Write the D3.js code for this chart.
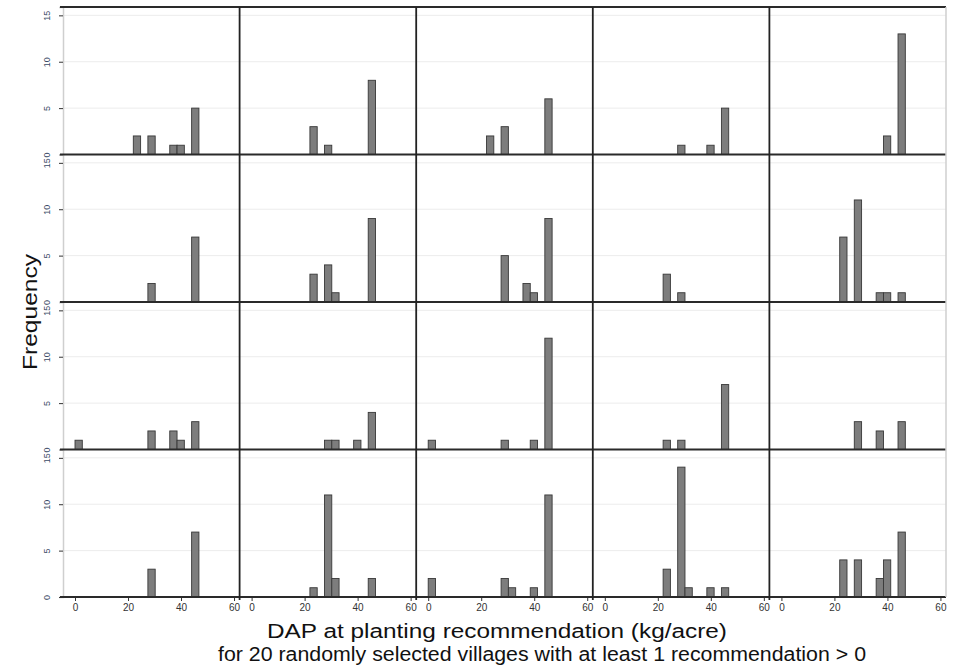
<!DOCTYPE html>
<html>
<head>
<meta charset="utf-8">
<script src="https://cdn.jsdelivr.net/npm/d3@7"></script>
<style>
  body { margin: 0; background: #fff; }
  svg { display: block; }
</style>
</head>
<body>
<svg id="chart" width="953" height="668"></svg>
<script>
// ---- data ----
const binEdges = [0, 22, 27.5, 30.25, 35.75, 38.5, 44]; // left edge of each histogram bin (kg/acre)
const binWidth = 2.75;
const yTicks = [0, 5, 10, 15];
const xTicks = [0, 20, 40, 60];
// counts per bin for each village panel (row by row)
const village01 = [0, 2, 2, 0, 1, 1, 5];
const village02 = [0, 3, 1, 0, 0, 0, 8];
const village03 = [0, 2, 3, 0, 0, 0, 6];
const village04 = [0, 0, 1, 0, 0, 1, 5];
const village05 = [0, 0, 0, 0, 0, 2, 13];
const village06 = [0, 0, 2, 0, 0, 0, 7];
const village07 = [0, 3, 4, 1, 0, 0, 9];
const village08 = [0, 0, 5, 0, 2, 1, 9];
const village09 = [0, 3, 1, 0, 0, 0, 0];
const village10 = [0, 7, 11, 0, 1, 1, 1];
const village11 = [1, 0, 2, 0, 2, 1, 3];
const village12 = [0, 0, 1, 1, 0, 1, 4];
const village13 = [1, 0, 1, 0, 0, 1, 12];
const village14 = [0, 1, 1, 0, 0, 0, 7];
const village15 = [0, 0, 3, 0, 2, 0, 3];
const village16 = [0, 0, 3, 0, 0, 0, 7];
const village17 = [0, 1, 11, 2, 0, 0, 2];
const village18 = [2, 0, 2, 1, 0, 1, 11];
const village19 = [0, 3, 14, 1, 0, 1, 1];
const village20 = [0, 4, 4, 0, 2, 4, 7];
const villages = [village01, village02, village03, village04, village05,
                  village06, village07, village08, village09, village10,
                  village11, village12, village13, village14, village15,
                  village16, village17, village18, village19, village20];
const xTitle = "DAP at planting recommendation (kg/acre)";
const xNote = "for 20 randomly selected villages with at least 1 recommendation > 0";
const yTitle = "Frequency";

// ---- layout ----
const svg = d3.select("#chart");
const plotL = 63, plotR = 946, plotT = 7, plotB = 597;
const nCols = 5, nRows = 4;
const colW = (plotR - plotL) / nCols;
const rowH = (plotB - plotT) / nRows;
const xDomain = [-4.53, 62.1];
const yDomain = [0, 15.9];

const gridG = svg.append("g");
const barG = svg.append("g");
const frameG = svg.append("g");

villages.forEach((counts, i) => {
  const r = Math.floor(i / nCols), c = i % nCols;
  const left = plotL + c * colW, top = plotT + r * rowH;
  const x = d3.scaleLinear().domain(xDomain).range([left, left + colW]);
  const y = d3.scaleLinear().domain(yDomain).range([top + rowH, top]);

  // light gridlines
  gridG.selectAll(null).data(yTicks.filter(t => t > 0)).join("line")
    .attr("x1", left).attr("x2", left + colW)
    .attr("y1", d => y(d)).attr("y2", d => y(d))
    .attr("stroke", "#ececec").attr("stroke-width", 1);

  // bars
  const data = binEdges.map((e, k) => ({ x0: e, n: counts[k] })).filter(d => d.n > 0);
  barG.selectAll(null).data(data).join("rect")
    .attr("x", d => x(d.x0))
    .attr("width", d => x(d.x0 + binWidth) - x(d.x0))
    .attr("y", d => y(d.n))
    .attr("height", d => y(0) - y(d.n))
    .attr("fill", "#7d7d7d")
    .attr("stroke", "#383838")
    .attr("stroke-width", 0.9);

  // y axis in first column
  if (c === 0) {
    const ay = frameG.append("g")
      .attr("transform", `translate(${left},0)`)
      .call(d3.axisLeft(y).tickValues(yTicks).tickSize(4).tickPadding(0));
    ay.select(".domain").attr("stroke", "#cfcfcf").attr("stroke-width", 1.5);
    ay.selectAll(".tick line").attr("stroke", "#333");
    ay.selectAll(".tick text")
      .attr("x", 0).attr("y", 0).attr("dy", 0)
      .attr("text-anchor", "middle")
      .attr("dominant-baseline", "middle")
      .attr("transform", "translate(-15,0) rotate(-90)")
      .attr("font-family", "Liberation Sans, Arial, sans-serif")
      .attr("font-size", 9).attr("fill", "#3a4a66");
  }

  // x axis in bottom row
  if (r === nRows - 1) {
    const ax = frameG.append("g")
      .attr("transform", `translate(0,${top + rowH})`)
      .call(d3.axisBottom(x).tickValues(xTicks).tickSize(4).tickPadding(3));
    ax.select(".domain").remove();
    ax.selectAll(".tick line").attr("stroke", "#333");
    ax.selectAll(".tick text")
      .attr("font-family", "Liberation Sans, Arial, sans-serif")
      .attr("font-size", 10).attr("fill", "#333");
  }
});

// frame lines: row baselines + top border
const rowLines = d3.range(nRows + 1).map(k => plotT + k * rowH);
frameG.selectAll(null).data(rowLines).join("line")
  .attr("x1", plotL - 3).attr("x2", plotR)
  .attr("y1", d => d).attr("y2", d => d)
  .attr("stroke", "#2a2a2a").attr("stroke-width", 1.8);

// column separators
const colLines = d3.range(1, nCols).map(k => plotL + k * colW);
frameG.selectAll(null).data(colLines).join("line")
  .attr("x1", d => d).attr("x2", d => d)
  .attr("y1", plotT).attr("y2", plotB + 3)
  .attr("stroke", "#222").attr("stroke-width", 1.8);

// right edge
frameG.append("line")
  .attr("x1", plotR).attr("x2", plotR).attr("y1", plotT).attr("y2", plotB)
  .attr("stroke", "#cfcfcf").attr("stroke-width", 1.5);

// titles
function fitText(sel, w) {
  const len = sel.node().getComputedTextLength();
  if (len > 0) sel.attr("textLength", w).attr("lengthAdjust", "spacingAndGlyphs");
}
const t1 = svg.append("text").text(xTitle)
  .attr("x", 497).attr("y", 638).attr("text-anchor", "middle")
  .attr("font-family", "Liberation Sans, Arial, sans-serif")
  .attr("font-size", 20).attr("fill", "#111");
fitText(t1, 460);
const t2 = svg.append("text").text(xNote)
  .attr("x", 542).attr("y", 661).attr("text-anchor", "middle")
  .attr("font-family", "Liberation Sans, Arial, sans-serif")
  .attr("font-size", 20).attr("fill", "#111");
fitText(t2, 648);
const t3 = svg.append("text").text(yTitle)
  .attr("transform", "translate(37,312) rotate(-90)")
  .attr("text-anchor", "middle")
  .attr("font-family", "Liberation Sans, Arial, sans-serif")
  .attr("font-size", 21).attr("fill", "#111");
fitText(t3, 116);
</script>
</body>
</html>
